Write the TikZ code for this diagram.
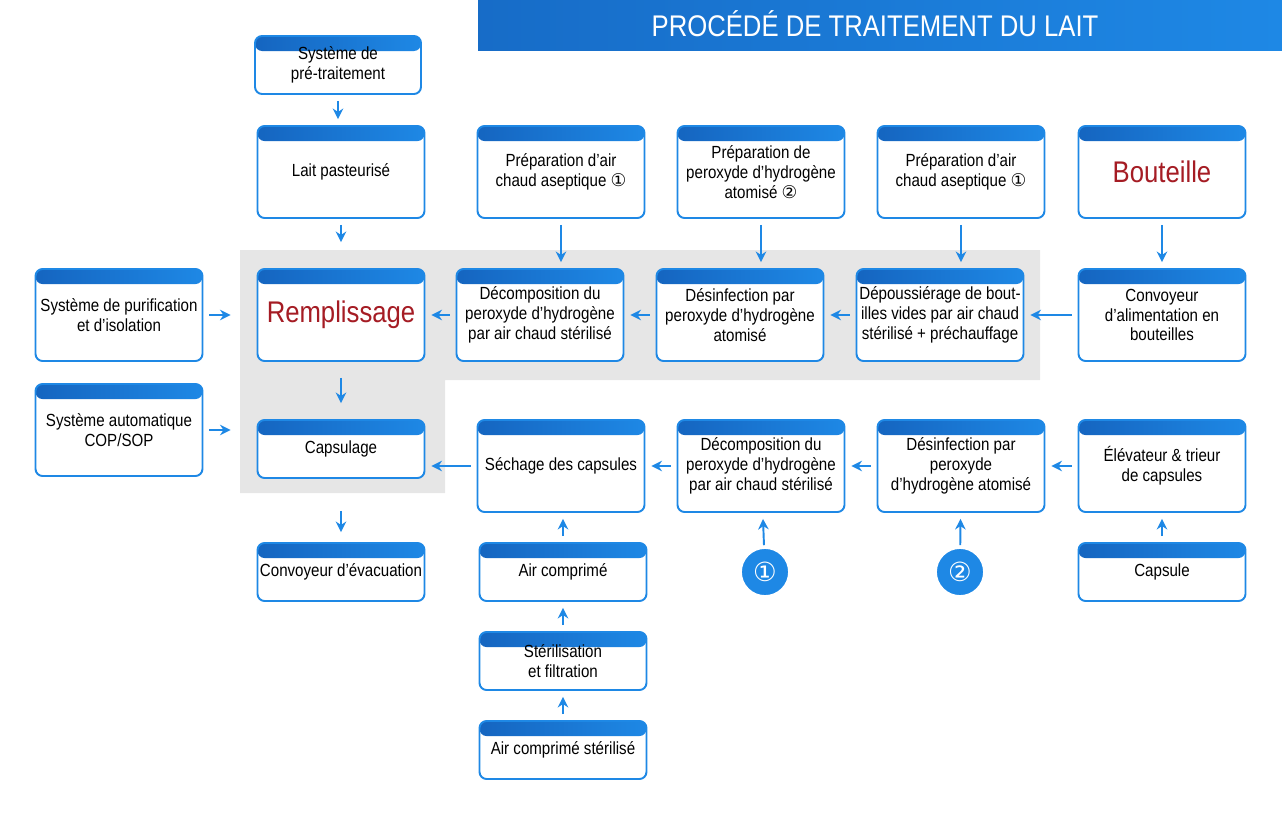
\documentclass[tikz,border=0pt]{standalone}
\usepackage{fontspec}
\setmainfont{Liberation Sans}[FakeStretch=0.86]
\newfontfamily\sym{DejaVu Sans}
\usetikzlibrary{arrows.meta,positioning}
\definecolor{procblue}{HTML}{1E88E5}
\definecolor{darkblue}{HTML}{1565C0}
\definecolor{procred}{HTML}{A51C24}
\definecolor{zone}{HTML}{E6E6E6}
\tikzset{
  box/.style={rectangle, draw=procblue, line width=1.1pt, fill=white,
    rounded corners=4pt, text centered, align=center, inner sep=1pt,
    minimum width=3.34cm, minimum height=1.84cm,
    font=\fontsize{10}{11.2}\selectfont,
    path picture={\shade[left color=darkblue, right color=procblue]
      (path picture bounding box.north west) rectangle
      ([yshift=-0.3cm]path picture bounding box.north east);}},
  smallbox/.style={box, minimum height=1.16cm},
  bigtext/.style={font=\fontsize{17}{19}\selectfont, text=procred},
  stepmark/.style={circle, fill=procblue, draw=white, line width=1pt,
    minimum size=0.96cm, text=white, font=\sym\fontsize{15}{15}\selectfont},
  flow/.style={-{Stealth[length=6pt,width=6pt]}, draw=procblue, line width=1.1pt,
    shorten <=3.4pt, shorten >=3.4pt}
}
\begin{document}
\begin{tikzpicture}[x=0.02cm, y=-0.02cm]
  \useasboundingbox (0,0) rectangle (1282,816);
  % title and grey zone
  \shade[left color=darkblue!80!procblue, right color=procblue] (478,0) rectangle (1282,50);
  \node[text=white, font=\fontsize{17}{19}\selectfont] (title) at (875,24) {PROCÉDÉ DE TRAITEMENT DU LAIT};
  \fill[zone] (240,250) -- (1040,250) -- (1040,380) -- (445,380) -- (445,493) -- (240,493) -- cycle;

  % first row
  \node[smallbox, minimum width=3.32cm] (pretraitement) at (338,65) {Système de\\pré-traitement};
  \node[box] (lait) at (341,172) {Lait pasteurisé};
  \node[box] (airA) at (561,172) {Préparation d'air\\chaud aseptique {\sym ①}};
  \node[box] (peroxyde) at (761,172) {Préparation de\\peroxyde d’hydrogène\\atomisé {\sym ②}};
  \node[box] (airB) at (961,172) {Préparation d'air\\chaud aseptique {\sym ①}};
  \node[box, bigtext] (bouteille) at (1162,172) {Bouteille};

  % second row
  \node[box] (purification) at (119,315) {Système de purification\\et d'isolation};
  \node[box, bigtext] (remplissage) at (341,315) {Remplissage};
  \node[box] (decompA) at (540,315) {Décomposition du\\peroxyde d’hydrogène\\par air chaud stérilisé};
  \node[box] (desinfA) at (740,315) {Désinfection par\\peroxyde d’hydrogène\\atomisé};
  \node[box] (depoussierage) at (940,315) {Dépoussiérage de bout-\\illes vides par air chaud\\stérilisé + préchauffage};
  \node[box] (convoyeur) at (1162,315) {Convoyeur\\d'alimentation en\\bouteilles};

  % third row
  \node[box] (cop) at (119,430) {Système automatique\\COP/SOP};
  \node[smallbox] (capsulage) at (341,449) {Capsulage};
  \node[box] (sechage) at (561,466) {Séchage des capsules};
  \node[box] (decompB) at (761,466) {Décomposition du\\peroxyde d’hydrogène\\par air chaud stérilisé};
  \node[box] (desinfB) at (961,466) {Désinfection par\\peroxyde\\d’hydrogène atomisé};
  \node[box] (elevateur) at (1162,466) {Élévateur \& trieur\\de capsules};

  % lower rows
  \node[smallbox] (evacuation) at (341,572) {Convoyeur d’évacuation};
  \node[smallbox] (aircomp) at (563,572) {Air comprimé};
  \node[stepmark] (un) at (765,572) {①};
  \node[stepmark] (deux) at (960,572) {②};
  \node[smallbox] (capsule) at (1162,572) {Capsule};
  \node[smallbox] (sterilisation) at (563,661) {Stérilisation\\et filtration};
  \node[smallbox] (airsterile) at (563,750) {Air comprimé stérilisé};

  % connectors
  \path[flow] (pretraitement) -- (pretraitement |- lait.north);
  \path[flow, shorten >=14.8pt] (lait) -- (remplissage);
  \path[flow] (airA.south) -- (airA.south |- decompA.north);
  \path[flow] (peroxyde.south) -- (peroxyde.south |- desinfA.north);
  \path[flow] (airB.south) -- (airB.south |- depoussierage.north);
  \path[flow] (bouteille) -- (convoyeur);

  \path[flow] (convoyeur) -- (depoussierage);
  \path[flow] (depoussierage) -- (desinfA);
  \path[flow] (desinfA) -- (decompA);
  \path[flow] (decompA) -- (remplissage);
  \path[flow, shorten >=14.8pt] (purification) -- (remplissage);
  \path[flow, shorten <=9.1pt, shorten >=9.1pt] (remplissage) -- (capsulage);
  \path[flow, shorten >=14.8pt] (cop.east) -- (cop.east -| capsulage.west);
  \path[flow, shorten <=18.2pt, shorten >=5.7pt] (capsulage) -- (evacuation);

  \path[flow] (elevateur) -- (desinfB);
  \path[flow] (desinfB) -- (decompB);
  \path[flow] (decompB) -- (sechage);
  \path[flow] (sechage.west) -- (sechage.west -| capsulage.east);
  \path[flow] (capsule) -- (elevateur);
  \path[flow, shorten <=1.1pt] (un) -- (decompB);
  \path[flow, shorten <=1.1pt] (deux) -- (desinfB);
  \path[flow] (aircomp.north) -- (aircomp.north |- sechage.south);
  \path[flow] (sterilisation) -- (aircomp);
  \path[flow] (airsterile) -- (sterilisation);
\end{tikzpicture}
\end{document}
